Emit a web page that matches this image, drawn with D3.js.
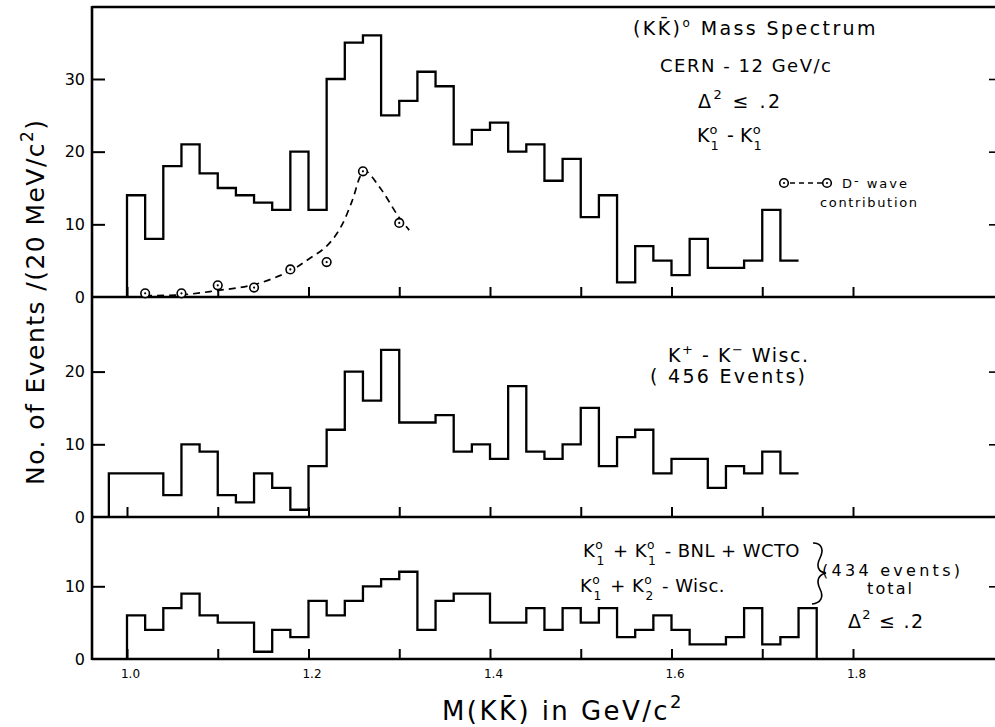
<!DOCTYPE html>
<html><head><meta charset="utf-8">
<script src="https://cdn.jsdelivr.net/npm/d3@7"></script>
<style>html,body{margin:0;padding:0;background:#fff;}svg{display:block;}</style>
</head><body>
<svg id="c" width="995" height="727"></svg>
<script>
// ---------------- data ----------------
const binWidth = 0.02;
const topStart = 1.00;
const topCounts = [14,8,18,21,17,15,14,13,12,20,12,30,35,36,25,27,31,29,21,23,24,20,21,16,19,11,14,2,7,5,3,8,4,4,5,12,5];
const midStart = 0.98;
const midCounts = [6,6,6,3,10,9,3,2,6,4,1,7,12,20,16,23,13,13,14,9,10,8,18,9,8,10,15,7,11,12,6,8,8,4,7,6,9,6];
const botStart = 1.00;
const botCounts = [6,4,7,9,6,5,5,1,4,3,8,6,8,10,11,12,4,8,9,9,5,5,7,4,7,5,7,3,4,6,4,2,2,3,7,2,3,7];
const dWaveMass = [1.02,1.06,1.10,1.14,1.18,1.22,1.26,1.30];
const dWaveVals = [0.5,0.5,1.6,1.3,3.8,4.8,17.3,10.2];
const dCurveMass = [1.02,1.06,1.10,1.14,1.18,1.20,1.22,1.235,1.248,1.257,1.262,1.279,1.299,1.311];
const dCurveVals = [0.2,0.3,0.9,1.7,3.6,5.2,7.0,9.5,13.2,16.6,17.4,15.0,11.1,9.2];
const xTickValues = [1.0,1.1,1.2,1.3,1.4,1.5,1.6,1.7,1.8];
const xTickLabels = ["1.0","","1.2","","1.4","","1.6","","1.8"];
const topYTicks = [0,10,20,30];
const midYTicks = [0,10,20];
const botYTicks = [0,10];

// ---------------- layout ----------------
const svg = d3.select("#c");
const FONT = "DejaVu Sans, Liberation Sans, sans-serif";
const axisX = 92, rightX = 995, frameTop = 7;
const x = d3.scaleLinear().domain([1.0, 1.8]).range([127, 853]);
const yTop = d3.scaleLinear().domain([0, 30]).range([297, 79]);
const yMid = d3.scaleLinear().domain([0, 20]).range([517, 371.6]);
const yBot = d3.scaleLinear().domain([0, 10]).range([659, 586.3]);

svg.append("rect").attr("width",995).attr("height",727).attr("fill","#fff");

// frame lines
const frame = svg.append("g").attr("stroke","#000").attr("stroke-width",2.6).attr("fill","none");
frame.append("line").attr("x1",axisX).attr("x2",rightX).attr("y1",frameTop).attr("y2",frameTop);
frame.append("line").attr("x1",axisX).attr("x2",axisX).attr("y1",frameTop-1).attr("y2",yBot(0)+1);
[yTop(0), yMid(0), yBot(0)].forEach(y0 => {
  frame.append("line").attr("x1",axisX).attr("x2",rightX).attr("y1",y0).attr("y2",y0);
});

function styleAxis(g){
  g.select(".domain").remove();
  g.selectAll("line").attr("stroke","#000").attr("stroke-width",2);
  g.selectAll("text").attr("font-family",FONT).attr("fill","#000");
}

// x ticks for each panel
[[yTop,false],[yMid,false],[yBot,true]].forEach(([ys,labels]) => {
  const ax = d3.axisBottom(x).tickValues(xTickValues).tickSizeInner(-10).tickSizeOuter(0)
    .tickPadding(8).tickFormat((d,i) => labels ? xTickLabels[i] : "");
  const g = svg.append("g").attr("transform",`translate(0,${ys(0)})`).call(ax);
  styleAxis(g);
  g.selectAll("text").attr("font-size",12).attr("dx",3).attr("dy","0.9em");
});

// y ticks left (inward) and right (inward)
[[yTop,topYTicks],[yMid,midYTicks],[yBot,botYTicks]].forEach(([ys,tv]) => {
  const ax = d3.axisLeft(ys).tickValues(tv).tickSizeInner(-13).tickSizeOuter(0).tickPadding(7)
    .tickFormat(d3.format("d"));
  const g = svg.append("g").attr("transform",`translate(${axisX},0)`).call(ax);
  styleAxis(g);
  g.selectAll("text").attr("font-size",16);
  g.selectAll(".tick").filter(d => d === 0).select("line").remove();
  const ar = d3.axisRight(ys).tickValues(tv.filter(d=>d>0)).tickSizeInner(-6).tickSizeOuter(0).tickFormat("");
  const g2 = svg.append("g").attr("transform",`translate(${rightX},0)`).call(ar);
  styleAxis(g2);
  g2.selectAll("line").attr("stroke-width",1.6);
});

// histograms
function histPoints(start, counts, closeEnd){
  const pts = [[start, 0]];
  counts.forEach((c,i) => pts.push([start + i*binWidth, c]));
  const end = start + counts.length*binWidth;
  pts.push([end, counts[counts.length-1]]);
  if (closeEnd) pts.push([end, 0]);
  return pts;
}
function drawHist(ys, start, counts, closeEnd){
  const line = d3.line().x(d => x(d[0])).y(d => ys(d[1])).curve(d3.curveStepAfter);
  svg.append("path").attr("d", line(histPoints(start, counts, closeEnd)))
    .attr("fill","none").attr("stroke","#000").attr("stroke-width",2.3).attr("stroke-linejoin","miter");
}
drawHist(yTop, topStart, topCounts, false);
drawHist(yMid, midStart, midCounts, false);
drawHist(yBot, botStart, botCounts, true);

// D-wave curve and points
const curve = d3.line().x((d,i) => x(dCurveMass[i])).y(d => yTop(d)).curve(d3.curveCatmullRom.alpha(0.5));
svg.append("path").attr("d", curve(dCurveVals)).attr("fill","none").attr("stroke","#000")
  .attr("stroke-width",1.7).attr("stroke-dasharray","7,5");
function odot(g, cx, cy){
  g.append("circle").attr("cx",cx).attr("cy",cy).attr("r",4.3).attr("fill","#fff").attr("stroke","#000").attr("stroke-width",1.6);
  g.append("circle").attr("cx",cx).attr("cy",cy).attr("r",1.1).attr("fill","#000");
}
const ptsG = svg.append("g");
dWaveMass.forEach((m,i) => odot(ptsG, x(m), yTop(dWaveVals[i])));

// ---------------- text ----------------
function fit(t, w){
  const n = t.node().getNumberOfChars();
  const cur = t.node().getComputedTextLength();
  if (n > 1) t.attr("letter-spacing", (w - cur)/(n-1));
}
function txt(xp, yp, fs, parts, w){
  const t = svg.append("text").attr("x",xp).attr("y",yp).attr("font-family",FONT)
    .attr("font-size",fs).attr("fill","#000");
  parts.forEach(p => {
    const s = t.append("tspan").text(p.t);
    if (p.dy) s.attr("dy",p.dy);
    if (p.dx) s.attr("dx",p.dx);
    if (p.fs) s.attr("font-size",p.fs);
  });
  if (w) fit(t, w);
  return t;
}
// K with stacked superscript and subscript
function K(sup, sub, fs){
  const s = fs*0.68;
  return [
    {t:"K"},
    {t:sup, fs:s, dy:-fs*0.42},
    {t:sub, fs:s, dy:fs*0.85, dx:-s*0.55},
    {t:"\u200A", dy:-fs*0.43}
  ];
}

txt(633, 35, 19, [{t:"(KK\u0304)"},{t:"o",fs:12,dy:-8},{t:"  Mass  Spectrum",dy:8}], 245);
txt(660, 72, 18, [{t:"CERN - 12 GeV/c"}], 171);
txt(698, 108, 19, [{t:"\u0394"},{t:"2",fs:13,dy:-9},{t:"  \u2264 .2",dy:9}], 82);
txt(697, 142, 19, [...K("o","1",19),{t:" - "},...K("o","1",19)], 81);

// legend
odot(svg, 784, 183); odot(svg, 827, 183);
svg.append("line").attr("x1",790).attr("x2",822).attr("y1",183).attr("y2",183)
  .attr("stroke","#000").attr("stroke-width",1.5).attr("stroke-dasharray","5,4");
txt(842, 188, 13, [{t:"D"},{t:"-",dy:-3},{t:" wave",dy:3}], 65);
txt(820, 207, 13, [{t:"contribution"}], 97);

txt(668, 362, 19, [{t:"K"},{t:"+",fs:13,dy:-8},{t:" - K",dy:8},{t:"\u2212",fs:13,dy:-8},{t:" Wisc.",dy:8}], 140);
txt(650, 383, 19, [{t:"( 456  Events)"}], 155);

txt(583, 557, 18, [...K("o","1",18),{t:" + "},...K("o","1",18),{t:" - BNL + WCTO"}], 230);
txt(580, 592, 18, [...K("o","1",18),{t:" + "},...K("o","2",18),{t:" - Wisc."}], 158);
svg.append("path").attr("d","M813,543 C822,543 824,550 820,558 C816,566 818,572 826,573 C818,575 816,581 820,589 C824,597 821,603 812,604")
  .attr("fill","none").attr("stroke","#000").attr("stroke-width",1.6);
txt(822, 576, 16, [{t:"(434 events)"}], 138);
txt(867, 594, 16, [{t:"total"}], 45);
txt(848, 628, 19, [{t:"\u0394"},{t:"2",fs:13,dy:-9},{t:"  \u2264 .2",dy:9}], 75);

// axis titles
txt(442, 720, 26, [{t:"M(KK\u0304)  in  GeV/c"},{t:"2",fs:18,dy:-12}], 242);
const yl = svg.append("text").attr("transform","translate(44,485) rotate(-90)")
  .attr("font-family",FONT).attr("font-size",25).attr("fill","#000");
yl.append("tspan").text("No. of Events /(20 MeV/c");
yl.append("tspan").text("2").attr("font-size",17).attr("dy",-11);
yl.append("tspan").text(")").attr("dy",11);
fit(yl, 365);
</script>
</body></html>
